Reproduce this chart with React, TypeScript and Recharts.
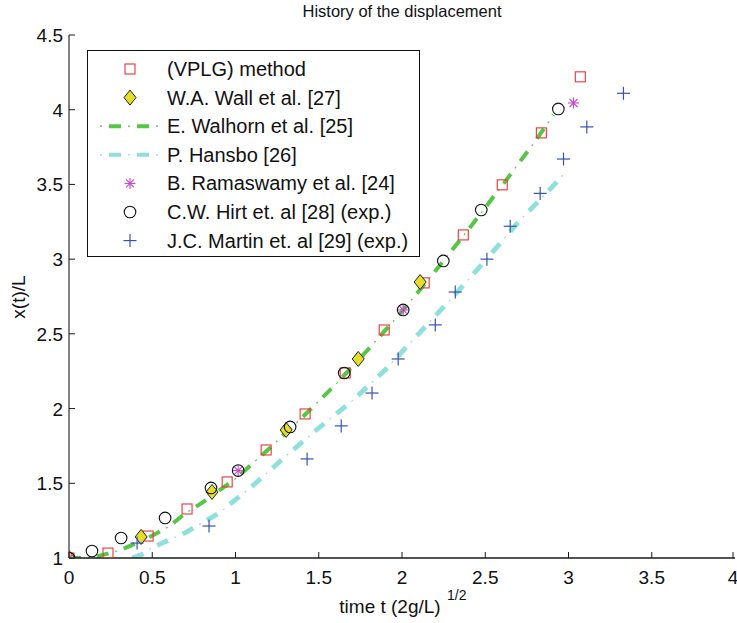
import { ComposedChart, Line, Scatter, XAxis, YAxis } from 'recharts';

const X_TICKS = [0, 0.5, 1, 1.5, 2, 2.5, 3, 3.5, 4];
const Y_TICKS = [1, 1.5, 2, 2.5, 3, 3.5, 4, 4.5];

// (VPLG) method
const vplg = [
  { x: 0, y: 1 }, { x: 0.234, y: 1.033 }, { x: 0.475, y: 1.147 }, { x: 0.709, y: 1.328 },
  { x: 0.95, y: 1.509 }, { x: 1.184, y: 1.723 }, { x: 1.418, y: 1.964 }, { x: 1.659, y: 2.238 },
  { x: 1.893, y: 2.526 }, { x: 2.133, y: 2.841 }, { x: 2.368, y: 3.162 }, { x: 2.602, y: 3.497 },
  { x: 2.837, y: 3.845 }, { x: 3.071, y: 4.22 },
];
// W.A. Wall et al. [27]
const wall = [
  { x: 0, y: 1 }, { x: 0.433, y: 1.141 }, { x: 0.859, y: 1.442 }, { x: 1.304, y: 1.857 },
  { x: 1.737, y: 2.332 }, { x: 2.109, y: 2.847 },
];
// E. Walhorn et al. [25]
const walhorn = [
  { x: 0, y: 1 }, { x: 0.15, y: 1.005 }, { x: 0.3, y: 1.05 }, { x: 0.45, y: 1.12 },
  { x: 0.6, y: 1.21 }, { x: 0.7, y: 1.3 }, { x: 0.8, y: 1.37 }, { x: 1.0, y: 1.53 },
  { x: 1.2, y: 1.73 }, { x: 1.4, y: 1.94 }, { x: 1.6, y: 2.16 }, { x: 1.8, y: 2.4 },
  { x: 2.0, y: 2.65 }, { x: 2.2, y: 2.92 }, { x: 2.4, y: 3.2 }, { x: 2.6, y: 3.49 },
  { x: 2.8, y: 3.79 }, { x: 2.91, y: 3.965 },
];
// P. Hansbo [26]
const hansbo = [
  { x: 0.38, y: 1 }, { x: 0.44, y: 1.025 }, { x: 0.5, y: 1.07 }, { x: 0.7, y: 1.17 },
  { x: 0.9, y: 1.3 }, { x: 1.1, y: 1.48 }, { x: 1.3, y: 1.68 }, { x: 1.5, y: 1.87 },
  { x: 1.7, y: 2.05 }, { x: 1.9, y: 2.26 }, { x: 2.1, y: 2.5 }, { x: 2.3, y: 2.74 },
  { x: 2.5, y: 2.99 }, { x: 2.7, y: 3.25 }, { x: 2.9, y: 3.48 }, { x: 2.98, y: 3.58 },
];
// B. Ramaswamy et al. [24]
const ramaswamy = [
  { x: 0, y: 1 }, { x: 1.016, y: 1.585 }, { x: 2.007, y: 2.66 }, { x: 3.03, y: 4.045 },
];
// C.W. Hirt et. al [28] (exp.)
const hirt = [
  { x: 0, y: 1 }, { x: 0.138, y: 1.047 }, { x: 0.313, y: 1.134 }, { x: 0.577, y: 1.268 },
  { x: 0.853, y: 1.469 }, { x: 1.016, y: 1.585 }, { x: 1.328, y: 1.877 }, { x: 1.653, y: 2.238 },
  { x: 2.007, y: 2.66 }, { x: 2.248, y: 2.988 }, { x: 2.476, y: 3.329 }, { x: 2.939, y: 4.005 },
];
// J.C. Martin et. al [29] (exp.)
const martin = [
  { x: 0, y: 1 }, { x: 0.409, y: 1.1 }, { x: 0.841, y: 1.214 }, { x: 1.43, y: 1.663 },
  { x: 1.635, y: 1.884 }, { x: 1.82, y: 2.104 }, { x: 1.977, y: 2.332 }, { x: 2.2, y: 2.56 },
  { x: 2.32, y: 2.78 }, { x: 2.51, y: 3.0 }, { x: 2.65, y: 3.22 }, { x: 2.83, y: 3.44 },
  { x: 2.97, y: 3.67 }, { x: 3.11, y: 3.885 }, { x: 3.33, y: 4.11 },
];

const AXIS = '#1a1a1a';
const GREEN = '#56c646';
const CYAN = '#8ee0da';
const RED = '#ec3434';
const MAGENTA = '#c448c8';
const BLUE = '#3553b4';
const FONT = '"Liberation Sans", Arial, Helvetica, sans-serif';

const THICK_DASH = '12 16';
const THIN_DOT = '0 19 2 7';

type P = { cx?: number; cy?: number };

const Square = ({ cx = 0, cy = 0 }: P) => (
  <rect x={cx - 5} y={cy - 5} width={10} height={10} fill="none" stroke={RED} strokeWidth={1.1} />
);
const Diamond = ({ cx = 0, cy = 0 }: P) => (
  <path
    d={`M${cx},${cy - 7.5} L${cx + 6},${cy} L${cx},${cy + 7.5} L${cx - 6},${cy} Z`}
    fill="#e6de26"
    stroke="#222"
    strokeWidth={1}
  />
);
const Asterisk = ({ cx = 0, cy = 0 }: P) => (
  <g stroke={MAGENTA} strokeWidth={1.1}>
    <line x1={cx - 5.5} y1={cy} x2={cx + 5.5} y2={cy} />
    <line x1={cx} y1={cy - 5.5} x2={cx} y2={cy + 5.5} />
    <line x1={cx - 4} y1={cy - 4} x2={cx + 4} y2={cy + 4} />
    <line x1={cx - 4} y1={cy + 4} x2={cx + 4} y2={cy - 4} />
  </g>
);
const Circle = ({ cx = 0, cy = 0 }: P) => (
  <circle cx={cx} cy={cy} r={5.8} fill="none" stroke="#111" strokeWidth={1.1} />
);
const Plus = ({ cx = 0, cy = 0 }: P) => (
  <g stroke={BLUE} strokeWidth={1.2}>
    <line x1={cx - 6.5} y1={cy} x2={cx + 6.5} y2={cy} />
    <line x1={cx} y1={cy - 6.5} x2={cx} y2={cy + 6.5} />
  </g>
);

const BottomTick = (props: any) => {
  const { x, y, payload } = props;
  return (
    <g>
      <line x1={x} y1={y} x2={x} y2={y - 6} stroke={AXIS} />
      <text x={x} y={y + 26} textAnchor="middle" fontSize={19} fontFamily={FONT} fill="#111">
        {payload.value}
      </text>
    </g>
  );
};
const LeftTick = (props: any) => {
  const { x, y, payload } = props;
  return (
    <g>
      <line x1={x} y1={y} x2={x + 6} y2={y} stroke={AXIS} />
      <text x={x - 6} y={y + 7} textAnchor="end" fontSize={19} fontFamily={FONT} fill="#111">
        {payload.value}
      </text>
    </g>
  );
};
const TopTick = (props: any) => {
  const { x, y } = props;
  return <line x1={x} y1={y} x2={x} y2={y + 6} stroke={AXIS} />;
};
const RightTick = (props: any) => {
  const { x, y } = props;
  return <line x1={x} y1={y} x2={x - 6} y2={y} stroke={AXIS} />;
};

const LEGEND = [
  { label: '(VPLG) method', kind: 'square' },
  { label: 'W.A. Wall et al. [27]', kind: 'diamond' },
  { label: 'E. Walhorn et al. [25]', kind: 'green' },
  { label: 'P. Hansbo [26]', kind: 'cyan' },
  { label: 'B. Ramaswamy et al. [24]', kind: 'asterisk' },
  { label: 'C.W. Hirt et. al [28] (exp.)', kind: 'circle' },
  { label: 'J.C. Martin et. al [29] (exp.)', kind: 'plus' },
];

function LegendMarker({ kind, y }: { kind: string; y: number }) {
  const cx = 130;
  if (kind === 'square') return <Square cx={cx} cy={y} />;
  if (kind === 'diamond') return <Diamond cx={cx} cy={y} />;
  if (kind === 'asterisk') return <Asterisk cx={cx} cy={y} />;
  if (kind === 'circle') return <Circle cx={cx} cy={y} />;
  if (kind === 'plus') return <Plus cx={cx} cy={y} />;
  const color = kind === 'green' ? GREEN : CYAN;
  return (
    <g>
      <line x1={99} y1={y} x2={160} y2={y} stroke={color} strokeWidth={4} strokeDasharray={THICK_DASH} strokeDashoffset={-10} />
      <line x1={99} y1={y} x2={160} y2={y} stroke={color} strokeWidth={1.2} strokeDasharray={THIN_DOT} strokeDashoffset={-10} />
    </g>
  );
}

export default function App() {
  return (
    <div style={{ position: 'absolute', left: 0, top: 0, width: 737, height: 623, background: '#fff' }}>
      <ComposedChart width={737} height={623} margin={{ top: 35, right: 2, bottom: 20, left: 0 }}>
        <XAxis
          dataKey="x"
          type="number"
          domain={[0, 4]}
          ticks={X_TICKS}
          allowDataOverflow
          height={45}
          tickSize={0}
          tickMargin={0}
          tickLine={false}
          axisLine={{ stroke: AXIS, strokeWidth: 1.6 }}
          tick={BottomTick}
        />
        <XAxis
          xAxisId="top"
          orientation="top"
          type="number"
          domain={[0, 4]}
          ticks={X_TICKS}
          allowDataOverflow
          height={0}
          tickSize={0}
          tickMargin={0}
          tickLine={false}
          axisLine={{ stroke: AXIS, strokeWidth: 1.1 }}
          tick={TopTick}
        />
        <YAxis
          dataKey="y"
          type="number"
          domain={[1, 4.5]}
          ticks={Y_TICKS}
          allowDataOverflow
          width={69}
          tickSize={0}
          tickMargin={0}
          tickLine={false}
          axisLine={{ stroke: AXIS, strokeWidth: 1.1 }}
          tick={LeftTick}
        />
        <YAxis
          yAxisId="right"
          orientation="right"
          type="number"
          domain={[1, 4.5]}
          ticks={Y_TICKS}
          allowDataOverflow
          width={0}
          tickSize={0}
          tickMargin={0}
          tickLine={false}
          axisLine={{ stroke: AXIS, strokeWidth: 1.1 }}
          tick={RightTick}
        />
        <Line data={walhorn} dataKey="y" type="linear" dot={false} stroke={GREEN} strokeWidth={4} strokeDasharray={THICK_DASH} isAnimationActive={false} />
        <Line data={walhorn} dataKey="y" type="linear" dot={false} stroke={GREEN} strokeWidth={1.2} strokeDasharray={THIN_DOT} isAnimationActive={false} />
        <Line data={hansbo} dataKey="y" type="linear" dot={false} stroke={CYAN} strokeWidth={4.8} strokeDasharray={THICK_DASH} isAnimationActive={false} />
        <Line data={hansbo} dataKey="y" type="linear" dot={false} stroke={CYAN} strokeWidth={1.2} strokeDasharray={THIN_DOT} isAnimationActive={false} />
        <Scatter data={vplg} dataKey="y" shape={(p: any) => <Square cx={p.cx} cy={p.cy} />} isAnimationActive={false} />
        <Scatter data={wall} dataKey="y" shape={(p: any) => <Diamond cx={p.cx} cy={p.cy} />} isAnimationActive={false} />
        <Scatter data={ramaswamy} dataKey="y" shape={(p: any) => <Asterisk cx={p.cx} cy={p.cy} />} isAnimationActive={false} />
        <Scatter data={hirt} dataKey="y" shape={(p: any) => <Circle cx={p.cx} cy={p.cy} />} isAnimationActive={false} />
        <Scatter data={martin} dataKey="y" shape={(p: any) => <Plus cx={p.cx} cy={p.cy} />} isAnimationActive={false} />
      </ComposedChart>
      <svg
        width={737}
        height={623}
        style={{ position: 'absolute', left: 0, top: 0, pointerEvents: 'none' }}
        fontFamily={FONT}
      >
        <text x={402} y={17} textAnchor="middle" fontSize={16.5} fill="#111">
          History of the displacement
        </text>
        <text x={390} y={613} textAnchor="middle" fontSize={19} fill="#111">
          time t (2g/L)
        </text>
        <text x={447} y={600} textAnchor="start" fontSize={14} fill="#111">
          1/2
        </text>
        <text x={25} y={297} textAnchor="middle" fontSize={19} fill="#111" transform="rotate(-90 25 297)">
          x(t)/L
        </text>
        <rect x={87.5} y={50.5} width={332} height={206} fill="#fff" stroke="#111" strokeWidth={1} />
        {LEGEND.map((e, i) => {
          const y = 69 + i * 28.6;
          return (
            <g key={e.label}>
              <LegendMarker kind={e.kind} y={y} />
              <text x={167} y={y + 7} fontSize={20} fill="#111">
                {e.label}
              </text>
            </g>
          );
        })}
      </svg>
    </div>
  );
}
